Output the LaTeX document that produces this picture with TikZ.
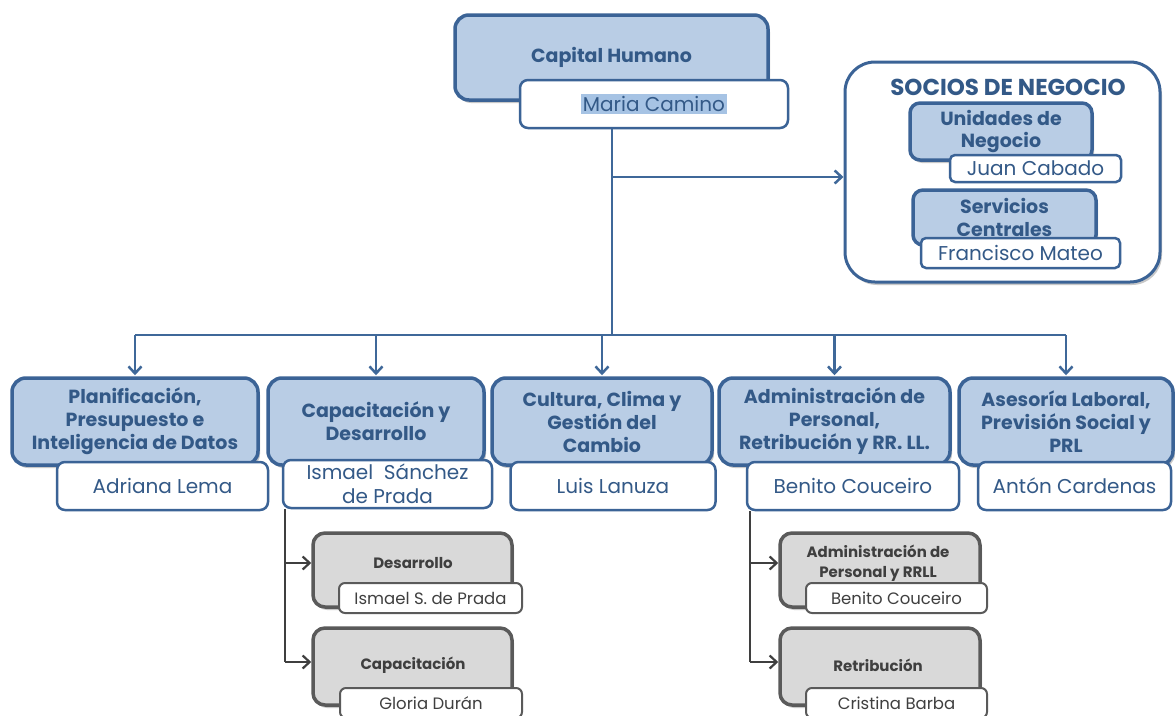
\documentclass[tikz,border=0pt]{standalone}
\usepackage{fontspec}
\setmainfont{Poppins}
\usetikzlibrary{arrows.meta,shadows}
\definecolor{hrblue}{HTML}{3B6396}
\definecolor{hrfill}{HTML}{B9CDE5}
\definecolor{hrtext}{HTML}{335987}
\definecolor{hrline}{HTML}{3F6899}
\definecolor{hrgray}{HTML}{5A5A5A}
\definecolor{hrgrayfill}{HTML}{D9D9D9}
\definecolor{hrgraytext}{HTML}{3F3F3F}
\definecolor{hrmark}{HTML}{A6C3E4}
\begin{document}
\begin{tikzpicture}[x=1pt,y=-1pt,
  softshadow/.style={drop shadow={shadow xshift=2pt,shadow yshift=-3pt,opacity=0.3,fill=black!70}},
  unitbox/.style={draw=hrblue,line width=3.5pt,fill=hrfill,rounded corners=14pt,align=center,
    text=hrtext,font=\bfseries\fontsize{19}{23}\selectfont,inner sep=0pt,softshadow},
  personbox/.style={draw=hrblue,line width=2.5pt,fill=white,rounded corners=8pt,align=center,
    text=hrtext,font=\fontsize{20}{24}\selectfont,inner sep=0pt},
  groupbox/.style={draw=hrblue,line width=3pt,fill=white,rounded corners=30pt,inner sep=0pt,softshadow},
  graybox/.style={draw=hrgray,line width=3.5pt,fill=hrgrayfill,rounded corners=12pt,inner sep=0pt,softshadow},
  graytitle/.style={align=center,text=hrgraytext,font=\bfseries\fontsize{15}{20}\selectfont,inner sep=0pt},
  grayperson/.style={draw=hrgray,line width=2pt,fill=white,rounded corners=6pt,align=center,
    text=hrgraytext,font=\fontsize{16.5}{18}\selectfont,inner sep=0pt},
  conn/.style={draw=hrline,line width=2.7pt},
  connarrow/.style={conn,-{Straight Barb[length=7pt,width=13pt,line width=2.5pt]}},
  rail/.style={draw=hrgraytext,line width=2.2pt},
  railarrow/.style={rail,-{Straight Barb[length=7pt,width=13pt,line width=2.2pt]}}
]
\useasboundingbox[fill=white] (0,0) rectangle (1175,715);

% trunk, fork to the business partners and the bus to the five areas
\coordinate (fork) at (612,177);
\coordinate (bus) at (612,335);
\coordinate (railL) at (285,563);
\coordinate (railLb) at (285,662);
\coordinate (railR) at (750,563);
\coordinate (railRb) at (750,662);

% top unit
\node[unitbox,minimum width=313pt,minimum height=85pt] (cap) at (611.5,57.5) {Capital Humano};
\node[personbox,minimum width=268pt,minimum height=48pt] (maria) at (654,104)
  {\setlength\fboxsep{2pt}\colorbox{hrmark}{Maria Camino}};

% business partners group
\node[groupbox,minimum width=315pt,minimum height=220pt] (socios) at (1002.5,172) {};
\node[text=hrtext,font=\bfseries\fontsize{23}{26}\selectfont,inner sep=0pt] (sociost) at (1008,87) {SOCIOS DE NEGOCIO};
\node[unitbox,minimum width=182pt,minimum height=57pt,rounded corners=10pt] (un) at (1001,131.5) {Unidades de\\Negocio};
\node[personbox,minimum width=171pt,minimum height=27pt,rounded corners=5pt] (juan) at (1035.5,168.5) {Juan Cabado};
\node[unitbox,minimum width=183pt,minimum height=55pt,rounded corners=10pt] (sc) at (1004.5,217.5) {Servicios\\Centrales};
\node[personbox,minimum width=199pt,minimum height=30pt,rounded corners=5pt] (fm) at (1020.5,253) {Francisco Mateo};

% five areas
\node[unitbox,minimum width=246pt,minimum height=87pt] (b1) at (135,421.5) {Planificación,\\Presupuesto e\\Inteligencia de Datos};
\node[personbox,minimum width=211pt,minimum height=48pt] (p1) at (162.5,486) {Adriana Lema};
\node[unitbox,minimum width=216pt,minimum height=87pt] (b2) at (376,421.5) {Capacitación y\\Desarrollo};
\node[personbox,minimum width=209pt,minimum height=48pt] (p2) at (387.5,484) {Ismael\ \ Sánchez\\de Prada};
\node[unitbox,minimum width=220pt,minimum height=87pt] (b3) at (602,421.5) {Cultura, Clima y\\Gestión del\\Cambio};
\node[personbox,minimum width=205pt,minimum height=48pt] (p3) at (613,486) {Luis Lanuza};
\node[unitbox,minimum width=231pt,minimum height=87pt] (b4) at (834.5,421.5) {Administración de\\Personal,\\Retribución y RR. LL.};
\node[personbox,minimum width=212pt,minimum height=48pt] (p4) at (853,486) {Benito Couceiro};
\node[unitbox,minimum width=214pt,minimum height=87pt] (b5) at (1066,421.5) {Asesoría Laboral,\\Previsión Social y\\PRL};
\node[personbox,minimum width=193pt,minimum height=48pt] (p5) at (1074.5,486) {Antón Cardenas};

% sub-units
\node[graybox,minimum width=199pt,minimum height=74pt] (d1) at (412.5,570) {};
\node[graytitle] (d1t) at (413,563) {Desarrollo};
\node[grayperson,minimum width=183pt,minimum height=30pt] (dp1) at (430.5,598) {Ismael S. de Prada};
\node[graybox,minimum width=199pt,minimum height=77pt] (d2) at (412.5,666.5) {};
\node[graytitle] (d2t) at (413,665) {Capacitación};
\node[grayperson,minimum width=182pt,minimum height=30pt] (dp2) at (431,703) {Gloria Durán};

\node[graybox,minimum width=200pt,minimum height=74pt] (a1) at (880,570) {};
\node[graytitle] (a1t) at (878,563) {Administración de\\Personal y RRLL};
\node[grayperson,minimum width=181pt,minimum height=30pt] (ap1) at (896.5,598) {Benito Couceiro};
\node[graybox,minimum width=200pt,minimum height=77pt] (a2) at (880,666.5) {};
\node[graytitle] (a2t) at (878,665) {Retribución};
\node[grayperson,minimum width=181pt,minimum height=30pt] (ap2) at (896.5,703) {Cristina Barba};

% connectors
\draw[conn] (bus |- maria.south) -- (bus);
\draw[connarrow] (fork) -- (fork -| socios.west);
\draw[conn] (bus -| b1.north) -- (bus -| b5.north);
\foreach \b in {b1,b2,b3,b4,b5}
  \draw[connarrow,shorten >=1pt] (bus -| \b.north) -- (\b.north);

\draw[rail] (railL |- p2.south) -- (railLb);
\draw[railarrow] (railL) -- (railL -| d1.west);
\draw[railarrow] (railLb) -- (railLb -| d2.west);
\draw[rail] (railR |- p4.south) -- (railRb);
\draw[railarrow] (railR) -- (railR -| a1.west);
\draw[railarrow] (railRb) -- (railRb -| a2.west);
\end{tikzpicture}
\end{document}
